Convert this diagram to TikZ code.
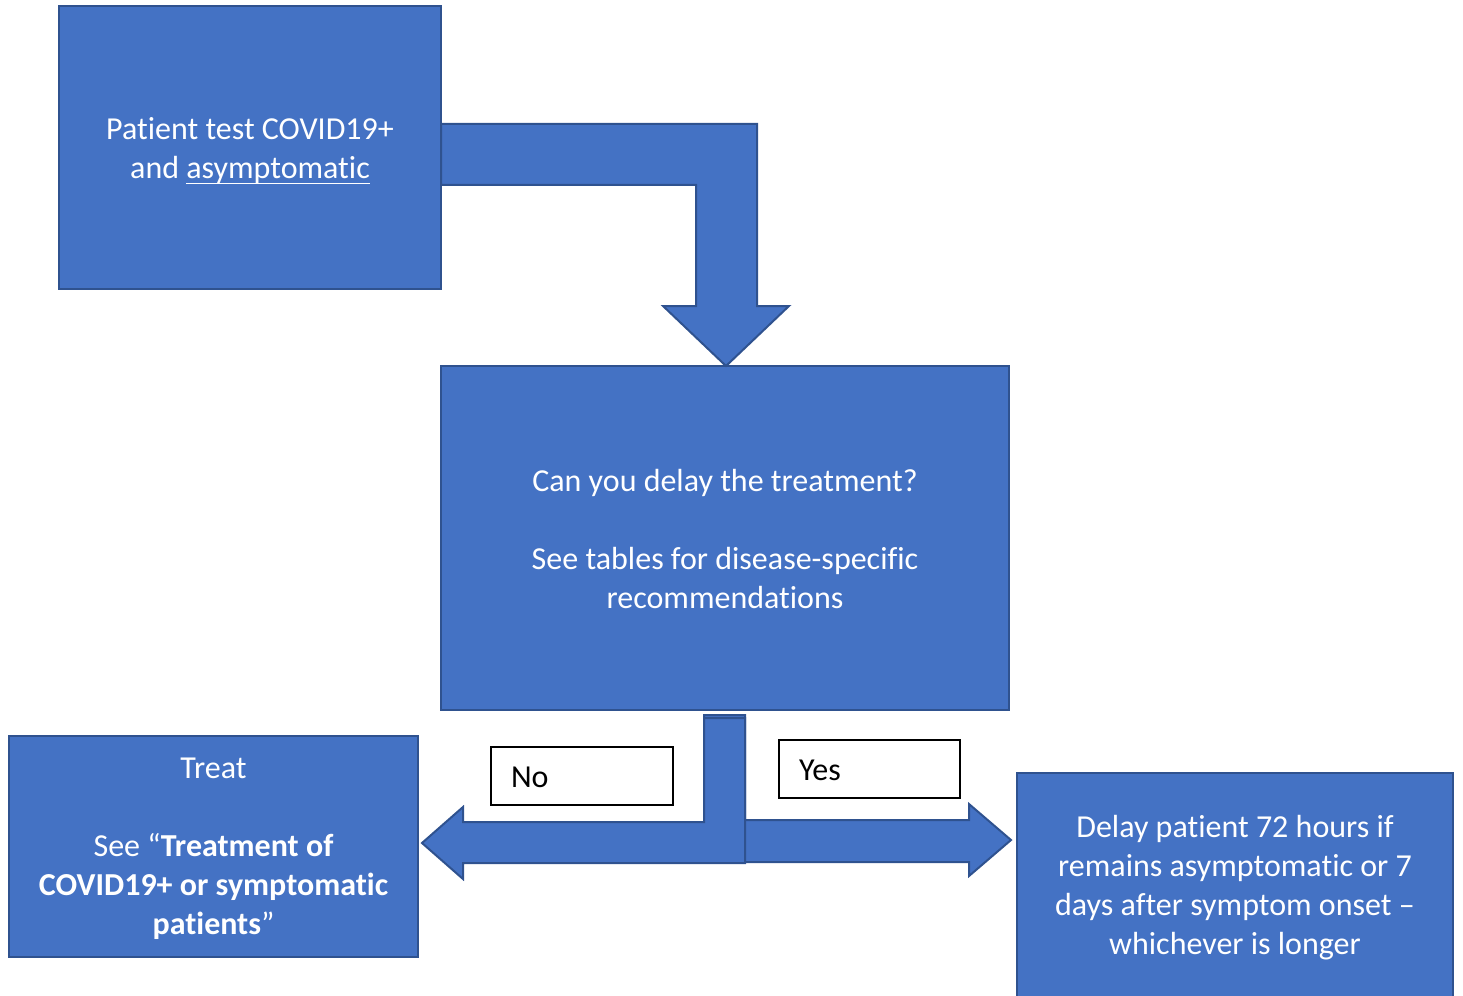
\documentclass[tikz,border=0pt]{standalone}
\usepackage{fontspec}
\setmainfont[Ligatures=NoCommon]{Carlito}
\definecolor{boxfill}{HTML}{4472C4}
\definecolor{boxline}{HTML}{2F528F}
\newcommand\myul[1]{\setbox0\hbox{#1}\rlap{\rule[-6pt]{\wd0}{1.5pt}}\box0}
\newcommand\strt[1]{\rule{0pt}{#1pt}}
\begin{document}
\begin{tikzpicture}[x=1pt,y=-1pt,
  blk/.style={draw=boxline,line width=2pt,fill=boxfill,text=white,align=center,
    font=\fontsize{32}{39}\selectfont,inner sep=0pt},
  shp/.style={draw=boxline,line width=2pt,fill=boxfill,line join=miter},
  lbl/.style={draw=black,line width=1.2pt,fill=white,text=black,align=left,
    font=\fontsize{32}{39}\selectfont,inner ysep=0pt,inner xsep=20pt}]
\useasboundingbox (0,0) rectangle (1463,995);
% boxes
\node[blk,minimum width=382pt,minimum height=283pt] (start) at (250,147.5)
  {\strt{29}Patient test COVID19+\\and \myul{asymptomatic}};
\node[blk,minimum width=568pt,minimum height=344pt] (delayq) at (725,538)
  {\strt{25}Can you delay the treatment?\\[39pt]See tables for disease-specific\\recommendations};
\node[blk,minimum width=409pt,minimum height=221pt] (treat) at (213.5,846.5)
  {\strt{25}Treat\\[39pt]See “\textbf{Treatment of}\\\textbf{COVID19+ or symptomatic}\\\textbf{patients}”};
\node[blk,minimum width=436pt,minimum height=225pt] (delay) at (1235,885.5)
  {\strt{27}Delay patient 72 hours if\\remains asymptomatic or 7\\days after symptom onset –\\whichever is longer};
% block arrows
\draw[shp] (441,124) -- (757,124) -- (757,306) -- (789,306) -- (726,366)
  -- (663,306) -- (696,306) -- (696,185) -- (441,185) -- cycle;
\draw[shp] (704,715) -- (745,715) -- (745,820) -- (969,820) -- (969,804) -- (1011,840)
  -- (969,876) -- (969,862) -- (704,862) -- cycle;
\draw[shp] (704,718) -- (745,718) -- (745,863) -- (463,863) -- (463,879) -- (422,843)
  -- (463,807) -- (463,822) -- (704,822) -- cycle;
% labels
\node[lbl,text width=142pt,minimum height=58pt] (no) at (582,776) {\strt{23}No};
\node[lbl,text width=141pt,minimum height=58pt] (yes) at (869.5,769) {\strt{24}Yes};
\end{tikzpicture}
\end{document}
